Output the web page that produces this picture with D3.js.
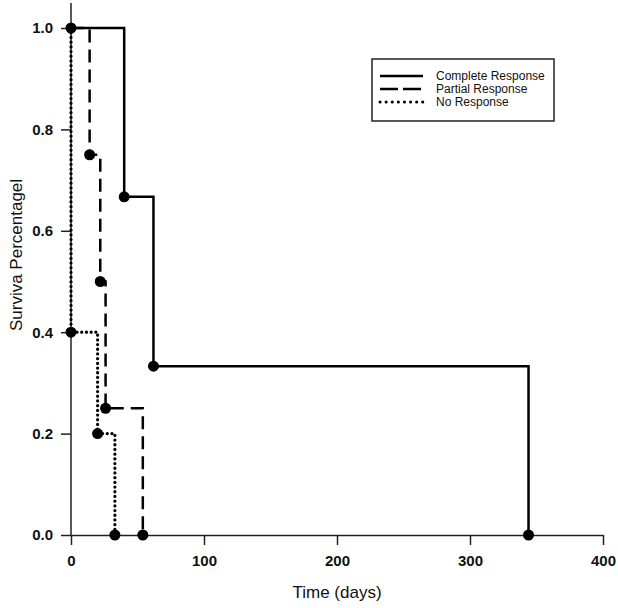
<!DOCTYPE html>
<html>
<head>
<meta charset="utf-8">
<script src="https://cdn.jsdelivr.net/npm/d3@7"></script>
<style>
  body { margin: 0; background: #fff; }
  svg { font-family: "Liberation Sans", Arial, sans-serif; }
</style>
</head>
<body>
<div id="chart"></div>
<script>
// Kaplan-Meier style steps
var completeTimes = [0, 40, 62, 344];
var completeSurv = [1.0, 0.667, 0.333, 0.0];
var partialTimes = [0, 14, 22, 26, 54];
var partialSurv = [1.0, 0.75, 0.5, 0.25, 0.0];
var noneTimes = [0, 0, 20, 33];
var noneSurv = [1.0, 0.4, 0.2, 0.0];

var xTicks = [0, 100, 200, 300, 400];
var yTicks = [0.0, 0.2, 0.4, 0.6, 0.8, 1.0];
var seriesNames = ["Complete Response", "Partial Response", "No Response"];

var width = 618, height = 608;

var svg = d3.select("#chart").append("svg")
    .attr("width", width).attr("height", height);

var x = d3.scaleLinear().domain([0, 400]).range([71, 603]);
var y = d3.scaleLinear().domain([0, 1]).range([535, 28]);

function pts(times, surv) {
    return times.map((t, i) => ({t: t, s: surv[i]}));
}

var series = [
    {name: seriesNames[0], data: pts(completeTimes, completeSurv), dash: null, cap: "butt", dotsFrom: 1},
    {name: seriesNames[1], data: pts(partialTimes, partialSurv), dash: "13,7", cap: "butt", dotsFrom: 1},
    {name: seriesNames[2], data: pts(noneTimes, noneSurv), dash: "0.1,4.6", cap: "round", dotsFrom: 0}
];

// axes
var xAxis = d3.axisBottom(x).tickValues(xTicks).tickSize(10).tickSizeOuter(0).tickPadding(10);
var yAxis = d3.axisLeft(y).tickValues(yTicks).tickSize(10).tickSizeOuter(0).tickPadding(8)
    .tickFormat(d3.format(".1f"));

var gx = svg.append("g").attr("transform", "translate(0,535)").call(xAxis);
var gy = svg.append("g").attr("transform", "translate(71,0)").call(yAxis);

// y axis line runs a bit above 1.0
gy.select(".domain").attr("d", "M0,3V535");

[gx, gy].forEach(g => {
    g.select(".domain").attr("stroke", "#222").attr("stroke-width", 1.5);
    g.selectAll(".tick line").attr("stroke", "#222").attr("stroke-width", 1.5);
    g.selectAll(".tick text")
        .attr("fill", "#111")
        .style("font-size", "15px")
        .style("font-weight", "bold")
        .style("font-family", "'Liberation Sans', Arial, sans-serif");
});

// step lines
var line = d3.line()
    .x(d => x(d.t))
    .y(d => y(d.s))
    .curve(d3.curveStepAfter);

series.forEach(s => {
    svg.append("path")
        .datum(s.data)
        .attr("d", line)
        .attr("fill", "none")
        .attr("stroke", "#000")
        .attr("stroke-width", s.cap == "round" ? 3.2 : 2.5)
        .attr("stroke-dasharray", s.dash)
        .attr("stroke-linecap", s.cap);

    svg.append("g")
        .selectAll("circle")
        .data(s.data.slice(s.dotsFrom))
        .join("circle")
        .attr("cx", d => x(d.t))
        .attr("cy", d => y(d.s))
        .attr("r", 5.5)
        .attr("fill", "#000");
});

// axis titles
svg.append("text")
    .attr("x", 337).attr("y", 598)
    .attr("text-anchor", "middle")
    .style("font-size", "17px")
    .attr("fill", "#111")
    .text("Time (days)");

svg.append("text")
    .attr("transform", "translate(22,255) rotate(-90)")
    .attr("text-anchor", "middle")
    .style("font-size", "17px")
    .attr("fill", "#111")
    .text("Surviva Percentagel");

// legend
var legend = svg.append("g");
legend.append("rect")
    .attr("x", 372).attr("y", 59)
    .attr("width", 182).attr("height", 62)
    .attr("fill", "#fff")
    .attr("stroke", "#222")
    .attr("stroke-width", 1.5);

var legDash = [null, "18,5", "0.1,6"];
series.forEach((s, i) => {
    var ly = 76 + i * 13;
    legend.append("line")
        .attr("x1", 380).attr("x2", 423)
        .attr("y1", ly).attr("y2", ly)
        .attr("stroke", "#000")
        .attr("stroke-width", s.cap == "round" ? 3 : 2.5)
        .attr("stroke-dasharray", legDash[i])
        .attr("stroke-linecap", s.cap);
    legend.append("text")
        .attr("x", 436).attr("y", ly + 4)
        .style("font-size", "12px")
        .attr("fill", "#111")
        .text(s.name);
});
</script>
</body>
</html>
